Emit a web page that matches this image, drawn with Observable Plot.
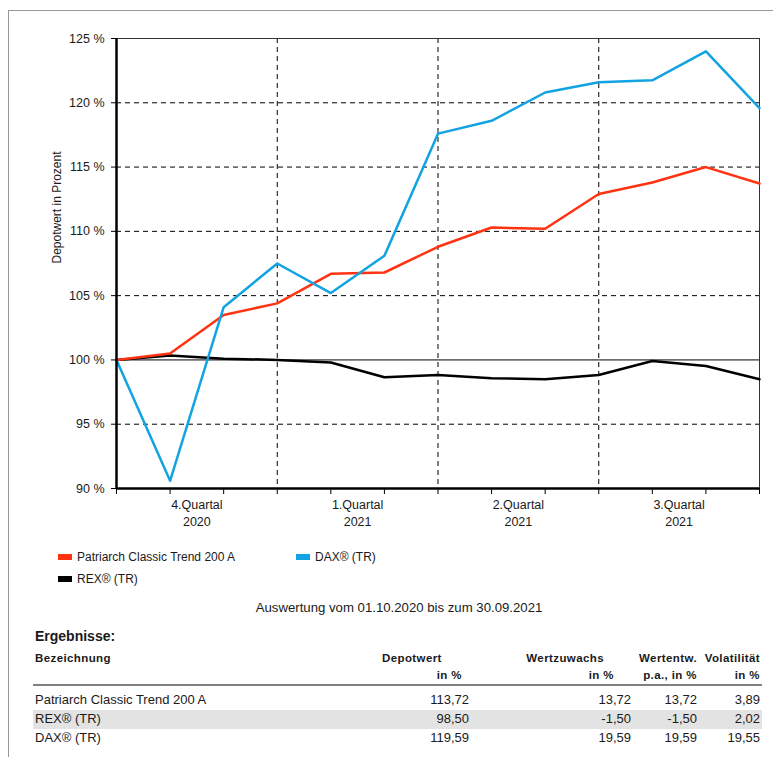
<!DOCTYPE html>
<html>
<head>
<meta charset="utf-8">
<script src="https://cdn.jsdelivr.net/npm/d3@7"></script>
<script src="https://cdn.jsdelivr.net/npm/@observablehq/plot@0.6"></script>
<style>
  html, body { margin: 0; padding: 0; background: #fff; }
  body { width: 773px; height: 757px; position: relative; overflow: hidden; font-family: "Liberation Sans", Arial, sans-serif; color: #1a1a1a; }
  #frame { position: absolute; left: 8px; top: 10px; width: 800px; height: 800px; border-left: 1px solid #999; border-top: 1px solid #999; }
  #chart { position: absolute; left: 0; top: 0; }
  .abs { position: absolute; white-space: nowrap; }
  .sw { position: absolute; width: 14px; height: 6px; }
  .lg { font-size: 12px; }
  .hd { font-size: 11.5px; font-weight: bold; letter-spacing: 0.4px; }
  .cell { font-size: 13px; }
</style>
</head>
<body>
<div id="frame"></div>
<div id="chart"></div>
<div id="extra"></div>
<script>
const months = ["01.10.2020","31.10.2020","30.11.2020","31.12.2020","31.01.2021","28.02.2021","31.03.2021","30.04.2021","31.05.2021","30.06.2021","31.07.2021","31.08.2021","30.09.2021"];
const patriarch = [100, 100.5, 103.5, 104.4, 106.7, 106.8, 108.8, 110.3, 110.2, 112.9, 113.8, 115.0, 113.72];
const dax = [100, 90.6, 104.1, 107.5, 105.2, 108.1, 117.6, 118.6, 120.8, 121.6, 121.75, 124.0, 119.59];
const rex = [100, 100.35, 100.1, 100.0, 99.8, 98.65, 98.83, 98.57, 98.5, 98.83, 99.92, 99.53, 98.5];
const yTicks = [90, 95, 100, 105, 110, 115, 120, 125];
const gridY = [95, 105, 110, 115, 120];
const quarterLabels = ["4.Quartal\n2020", "1.Quartal\n2021", "2.Quartal\n2021", "3.Quartal\n2021"];

const seriesNames = ["Patriarch Classic Trend 200 A", "DAX® (TR)", "REX® (TR)"];
const seriesColors = ["#ff3311", "#12a3e3", "#000000"];

const tableNames = ["Patriarch Classic Trend 200 A", "REX® (TR)", "DAX® (TR)"];
const depotwert = ["113,72", "98,50", "119,59"];
const wertzuwachs = ["13,72", "-1,50", "19,59"];
const wertentw = ["13,72", "-1,50", "19,59"];
const volatilitaet = ["3,89", "2,02", "19,55"];

const idx = months.map((m, i) => i);
const toRows = (vals) => vals.map((v, i) => ({i, v, date: months[i]}));
const quarterBounds = [3, 6, 9];
const quarters = quarterLabels.map((label, k) => ({c: 1.5 + 3 * k, label}));

const chart = Plot.plot({
  width: 773,
  height: 530,
  marginLeft: 116,
  marginRight: 14,
  marginTop: 38,
  marginBottom: 42,
  x: {domain: [0, 12]},
  y: {domain: [90, 125]},
  style: {fontFamily: "'Liberation Sans', Arial, sans-serif", fontSize: "12.5px", color: "#1a1a1a", background: "transparent", overflow: "visible"},
  marks: [
    Plot.ruleY(gridY, {stroke: "#000", strokeWidth: 1, strokeDasharray: "5,4"}),
    Plot.ruleX(quarterBounds, {stroke: "#000", strokeWidth: 1, strokeDasharray: "5,4"}),
    Plot.ruleY([125], {stroke: "#333", strokeWidth: 1}),
    Plot.ruleX([12], {stroke: "#333", strokeWidth: 1}),
    Plot.ruleY([100], {stroke: "#000", strokeWidth: 1}),
    Plot.line(toRows(rex), {x: "i", y: "v", stroke: seriesColors[2], strokeWidth: 2.5}),
    Plot.line(toRows(patriarch), {x: "i", y: "v", stroke: seriesColors[0], strokeWidth: 2.5}),
    Plot.line(toRows(dax), {x: "i", y: "v", stroke: seriesColors[1], strokeWidth: 2.5}),
    Plot.axisY({ticks: yTicks, tickFormat: d => d + " %", tickSize: 5, tickPadding: 7, label: null, stroke: "#000"}),
    Plot.axisX({ticks: idx, tickSize: 6, tickFormat: () => "", label: null, stroke: "#000"}),
    Plot.text(quarters, {x: "c", y: () => 90, text: "label", dy: 8, lineAnchor: "top", lineHeight: 1.4, fontSize: 12.5}),
    Plot.ruleX([0], {stroke: "#000", strokeWidth: 2.5}),
    Plot.ruleY([90], {stroke: "#000", strokeWidth: 2.5}),
    Plot.text(["Depotwert in Prozent"], {frameAnchor: "left", dx: -59, rotate: -90, fontSize: 12})
  ]
});
document.getElementById("chart").appendChild(chart);

// Legend, caption and table
const extra = document.getElementById("extra");
function add(html, cls, style) {
  const d = document.createElement("div");
  d.className = "abs " + (cls || "");
  Object.assign(d.style, style);
  d.innerHTML = html;
  extra.appendChild(d);
  return d;
}
const legendPos = [{x: 58, y: 557}, {x: 296, y: 557}, {x: 58, y: 579}];
seriesNames.forEach((name, k) => {
  const p = legendPos[k];
  const s = document.createElement("div");
  s.className = "sw";
  Object.assign(s.style, {left: p.x + "px", top: (p.y - 3) + "px", background: seriesColors[k]});
  extra.appendChild(s);
  add(name, "lg", {left: (p.x + 19) + "px", top: (p.y - 8) + "px", lineHeight: "16px"});
});

add("Auswertung vom " + months[0] + " bis zum " + months[months.length - 1], "", {left: "0px", width: "798px", textAlign: "center", top: "600px", fontSize: "13.2px", lineHeight: "16px"});
add("Ergebnisse:", "", {left: "35px", top: "627px", fontSize: "14px", fontWeight: "bold", lineHeight: "18px"});

function cellR(text, right, yc, cls, extraStyle) {
  return add(text, cls, Object.assign({right: (773 - right) + "px", top: (yc - 8) + "px", lineHeight: "16px", textAlign: "right"}, extraStyle || {}));
}
add("Bezeichnung", "hd", {left: "35px", top: "650px", lineHeight: "16px"});
add("Depotwert", "hd", {left: "382px", top: "650px", lineHeight: "16px"});
cellR("in %", 462, 675, "hd");
cellR("Wertzuwachs", 604, 658, "hd");
cellR("in %", 614, 675, "hd");
cellR("Wertentw.", 697, 658, "hd");
cellR("p.a., in %", 697, 675, "hd");
cellR("Volatilität", 760, 658, "hd");
cellR("in %", 760, 675, "hd");

add("", "", {left: "33px", width: "729px", top: "684px", height: "2px", background: "#808080"});

const rowY = [700, 719, 738];
tableNames.forEach((name, r) => {
  if (r === 1) add("", "", {left: "33px", width: "729px", top: (rowY[r] - 9.5) + "px", height: "19px", background: "#e3e3e3"});
  add(name, "cell", {left: "35px", top: (rowY[r] - 8) + "px", lineHeight: "16px"});
  cellR(depotwert[r], 469, rowY[r], "cell");
  cellR(wertzuwachs[r], 631, rowY[r], "cell");
  cellR(wertentw[r], 697, rowY[r], "cell");
  cellR(volatilitaet[r], 760, rowY[r], "cell");
});
</script>
</body>
</html>
